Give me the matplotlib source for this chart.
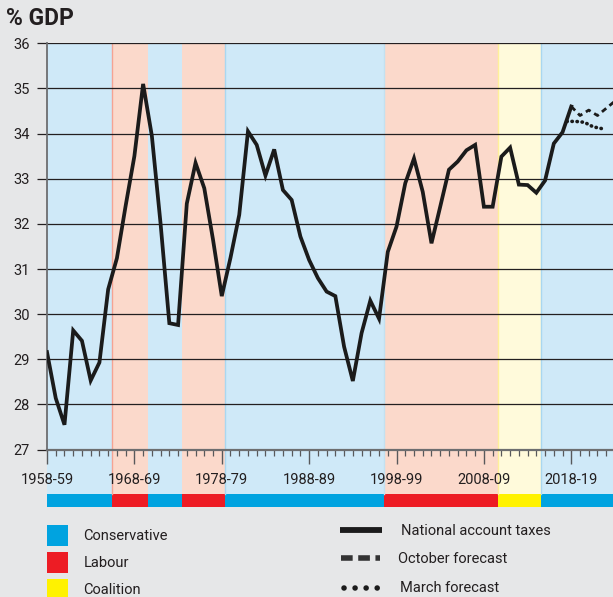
import matplotlib
matplotlib.use("Agg")
import matplotlib.pyplot as plt
from matplotlib.patches import Rectangle
from matplotlib.lines import Line2D
from matplotlib.ticker import MultipleLocator

plt.rcParams['font.family'] = ['Roboto', 'DejaVu Sans']

# ---------------- data ----------------
tick_labels = ['1958-59', '1968-69', '1978-79', '1988-89', '1998-99', '2008-09', '2018-19']
tick_pos = [0, 10, 20, 30, 40, 50, 60]

# National account taxes, % GDP, one value per fiscal year from 1958-59 (index 0)
taxes = [29.16, 28.14, 27.55, 29.64, 29.41, 28.53, 28.93, 30.55, 31.24, 32.4,
         33.5, 35.1, 33.95, 32.0, 29.8, 29.76, 32.45, 33.35, 32.79, 31.65,
         30.4, 31.25, 32.2, 34.05, 33.75, 33.07, 33.65, 32.75, 32.53, 31.72,
         31.2, 30.8, 30.5, 30.4, 29.28, 28.52, 29.58, 30.3, 29.9, 31.38,
         31.94, 32.9, 33.45, 32.71, 31.57, 32.38, 33.2, 33.38, 33.63, 33.75,
         32.38, 32.38, 33.49, 33.69, 32.87, 32.86, 32.69, 32.96, 33.78, 34.03,
         34.6]
years_idx = list(range(len(taxes)))

october_x = [60, 61, 62, 63, 64, 65]
october = [34.6, 34.4, 34.52, 34.4, 34.56, 34.72]

march_x = [59.5, 60.5, 61.5, 62.5, 63.5]
march = [34.27, 34.27, 34.25, 34.15, 34.11]

gov_start = [0.0, 7.44, 11.52, 15.45, 20.41, 38.51, 51.57, 56.57]
gov_end = [7.44, 11.52, 15.45, 20.41, 38.51, 51.57, 56.57, 66.0]
gov_party = ['Conservative', 'Labour', 'Conservative', 'Labour', 'Conservative',
             'Labour', 'Coalition', 'Conservative']

party_names = ['Conservative', 'Labour', 'Coalition']
series_names = ['National account taxes', 'October forecast', 'March forecast']

# ---------------- style ----------------
BG = '#e6e7e8'
TXT = '#231f20'
strong = {'Conservative': '#00a3e0', 'Labour': '#ed1c24', 'Coalition': '#fff200'}
light = {'Conservative': '#cfe9f8', 'Labour': '#fbd9cb', 'Coalition': '#fffadb'}
# thin boundary lines seen on the left edge of some bands
edge_lines = {1: '#f5a393', 4: '#a9d7f0', 5: '#c2e1f1', 6: '#fff09a', 7: '#a9d7f0'}

W, H = 613, 597
fig = plt.figure(figsize=(W / 100, H / 100), dpi=100, facecolor=BG)

def fx(x):
    return x / W

def fy(y):
    return 1 - y / H

X0, YTOP, YBOT, BARTOP, BARBOT = 47, 43.3, 449.6, 494.3, 506.7
XMAX = (W - X0) / 8.738

# background bands + party bar
axb = fig.add_axes([fx(X0), fy(BARBOT), 1 - fx(X0), (BARBOT - YTOP) / H], zorder=0)
axb.set_xlim(0, XMAX)
axb.set_ylim(0, 1)
axb.axis('off')
bar_frac = (BARBOT - BARTOP) / (BARBOT - YTOP)
for s, e, p in zip(gov_start, gov_end, gov_party):
    axb.axvspan(s, e, ymin=bar_frac, ymax=1, color=light[p], lw=0)
    axb.axvspan(s, e, ymin=0, ymax=bar_frac, color=strong[p], lw=0)
for i, c in edge_lines.items():
    axb.axvline(gov_start[i], ymin=bar_frac, ymax=1, color=c, lw=1.0)

# main axes
ax = fig.add_axes([fx(X0), fy(YBOT), 1 - fx(X0), (YBOT - YTOP) / H], zorder=2)
ax.set_facecolor('none')
ax.set_xlim(0, XMAX)
ax.set_ylim(27, 36)
ax.yaxis.set_major_locator(MultipleLocator(1))
ax.yaxis.grid(True, color=TXT, lw=0.9)
ax.set_axisbelow(True)
for s in ['top', 'right']:
    ax.spines[s].set_visible(False)
ax.spines['left'].set_color('#6d6e70')
ax.spines['left'].set_linewidth(1.3)
ax.spines['bottom'].set_color('#6d6e70')
ax.spines['bottom'].set_linewidth(1.6)
ax.tick_params(axis='y', length=7.2, width=0.9, color=TXT, pad=5.4,
               labelsize=10.5, labelcolor=TXT)
ax.set_xticks(tick_pos)
ax.set_xticklabels(tick_labels)
ax.xaxis.set_minor_locator(MultipleLocator(1))
ax.tick_params(axis='x', which='major', length=10, width=1.0, color='#58595b',
               pad=6.5, labelsize=10.5, labelcolor=TXT)
ax.tick_params(axis='x', which='minor', length=4.3, width=0.9, color='#58595b')

ax.plot(years_idx, taxes, color='#1b1b1b', lw=2.7, solid_joinstyle='miter', zorder=5)
ax.plot(october_x, october, color='#1b1b1b', lw=2.0, ls=(0, (2.0, 1.5)), zorder=4)
ax.plot(march_x, march, color='#1b1b1b', lw=2.6, ls=(0, (0.1, 1.3)),
        dash_capstyle='round', zorder=4)

# title
fig.text(fx(6.0), fy(18.8), '% GDP', fontsize=16.5, fontweight='bold', color=TXT,
         ha='left', va='center')

# legend overlay (pixel coordinates)
axl = fig.add_axes([0, 0, 1, 1], zorder=3)
axl.set_xlim(0, W)
axl.set_ylim(H, 0)
axl.axis('off')
for i, name in enumerate(party_names):
    top = 525 + i * 27.2
    axl.add_patch(Rectangle((47, top), 20.5, 21, color=strong[name], lw=0))
    axl.text(83.3, top + 10.5, name, fontsize=10.5, color=TXT, va='center', ha='left')

ly = [530, 558.3, 587.7]
axl.add_line(Line2D([340, 382], [ly[0], ly[0]], color='#1b1b1b', lw=4.2,
                    solid_capstyle='butt'))
axl.add_line(Line2D([341, 380], [ly[1], ly[1]], color='#333333', lw=4.0,
                    ls=(0, (2.1, 1.0)), dash_capstyle='butt'))
axl.add_line(Line2D([344, 382], [ly[2], ly[2]], color='#1b1b1b', lw=4.0,
                    ls=(0, (0.01, 1.98)), dash_capstyle='round'))
for y, name, x in zip(ly, series_names, [400.7, 397.6, 399.5]):
    axl.text(x, y + 0.8, name, fontsize=10.5, color=TXT, va='center', ha='left')

fig.savefig('out.png', dpi=100, facecolor=BG)
